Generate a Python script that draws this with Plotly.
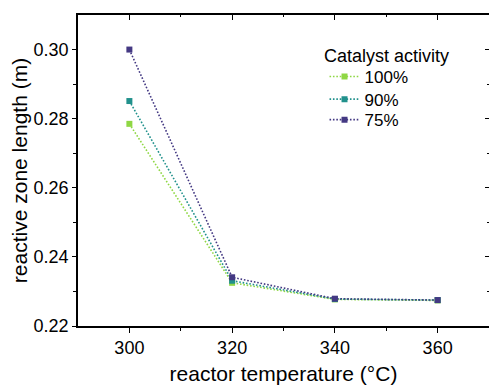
import plotly.graph_objects as go

temperature = [300, 320, 340, 360]
activity_labels = ["100%", "90%", "75%"]
length_100 = [0.2785, 0.2325, 0.2277, 0.2274]
length_90 = [0.2851, 0.2331, 0.2278, 0.2275]
length_75 = [0.3000, 0.2341, 0.2279, 0.2275]
series = [length_100, length_90, length_75]
colors = ["#8fd744", "#21918c", "#443983"]
legend_title = "Catalyst activity"

FONT = "Arial, Liberation Sans, sans-serif"

legend_ids = ["legend", "legend2", "legend3"]
legend_y = [0.801, 0.728, 0.662]

fig = go.Figure()
for label, vals, col, lg in zip(activity_labels, series, colors, legend_ids):
    fig.add_trace(go.Scatter(
        x=temperature, y=vals, name=label, mode="lines+markers",
        line=dict(color=col, width=1.6, dash="1.6px,1.8px"),
        marker=dict(symbol="square", size=6, color=col),
        legend=lg,
    ))

# invisible trace for mirrored axes
fig.add_trace(go.Scatter(x=[290], y=[0.22], xaxis="x2", yaxis="y2",
                         showlegend=False, mode="markers",
                         marker=dict(opacity=0), hoverinfo="skip"))

legend_common = dict(font=dict(size=17), x=0.5998, xanchor="left",
                     yanchor="middle", bgcolor="rgba(0,0,0,0)")
layout_legends = {lg: dict(y=y, **legend_common) for lg, y in zip(legend_ids, legend_y)}

fig.update_layout(
    width=489, height=385,
    margin=dict(l=78, r=0, t=15, b=59),
    plot_bgcolor="white", paper_bgcolor="white",
    font=dict(family=FONT, color="black", size=18),
    showlegend=True,
    **layout_legends,
    annotations=[dict(text=legend_title, xref="paper", yref="paper",
                      x=0.5937, y=0.868, xanchor="left", yanchor="middle",
                      showarrow=False, font=dict(size=18))],
    xaxis=dict(
        range=[290, 370], tickvals=[300, 320, 340, 360],
        showgrid=False, zeroline=False,
        showline=True, linecolor="black", linewidth=1.5,
        ticks="outside", ticklen=5, tickwidth=1, tickcolor="black",
        minor=dict(tickvals=[310, 330, 350], ticks="outside", ticklen=3, tickcolor="black"),
        title=dict(text="reactor temperature (°C)", font=dict(size=21), standoff=10),
        tickfont=dict(size=18),
    ),
    yaxis=dict(
        range=[0.22, 0.31], tickvals=[0.22, 0.24, 0.26, 0.28, 0.30],
        tickformat=".2f",
        showgrid=False, zeroline=False,
        showline=True, linecolor="black", linewidth=1.5,
        ticks="outside", ticklen=4, tickwidth=1, tickcolor="black",
        minor=dict(tickvals=[0.23, 0.25, 0.27, 0.29], ticks="outside", ticklen=3, tickcolor="black"),
        title=dict(text="reactive zone length (m)", font=dict(size=21), standoff=0),
        tickfont=dict(size=18),
    ),
    xaxis2=dict(
        range=[290, 370], overlaying="x", side="top", anchor="y",
        tickvals=[300, 320, 340, 360], showticklabels=False,
        showgrid=False, zeroline=False,
        showline=True, linecolor="black", linewidth=1.5,
        ticks="inside", ticklen=5, tickcolor="black",
        minor=dict(tickvals=[310, 330, 350], ticks="inside", ticklen=2, tickcolor="black"),
    ),
    yaxis2=dict(
        range=[0.22, 0.31], overlaying="y", side="right", anchor="x",
        tickvals=[0.22, 0.24, 0.26, 0.28, 0.30], showticklabels=False,
        showgrid=False, zeroline=False, showline=False,
        ticks="inside", ticklen=4, tickcolor="black",
        minor=dict(tickvals=[0.23, 0.25, 0.27, 0.29], ticks="inside", ticklen=2, tickcolor="black"),
    ),
)

fig.write_html("out.html")
